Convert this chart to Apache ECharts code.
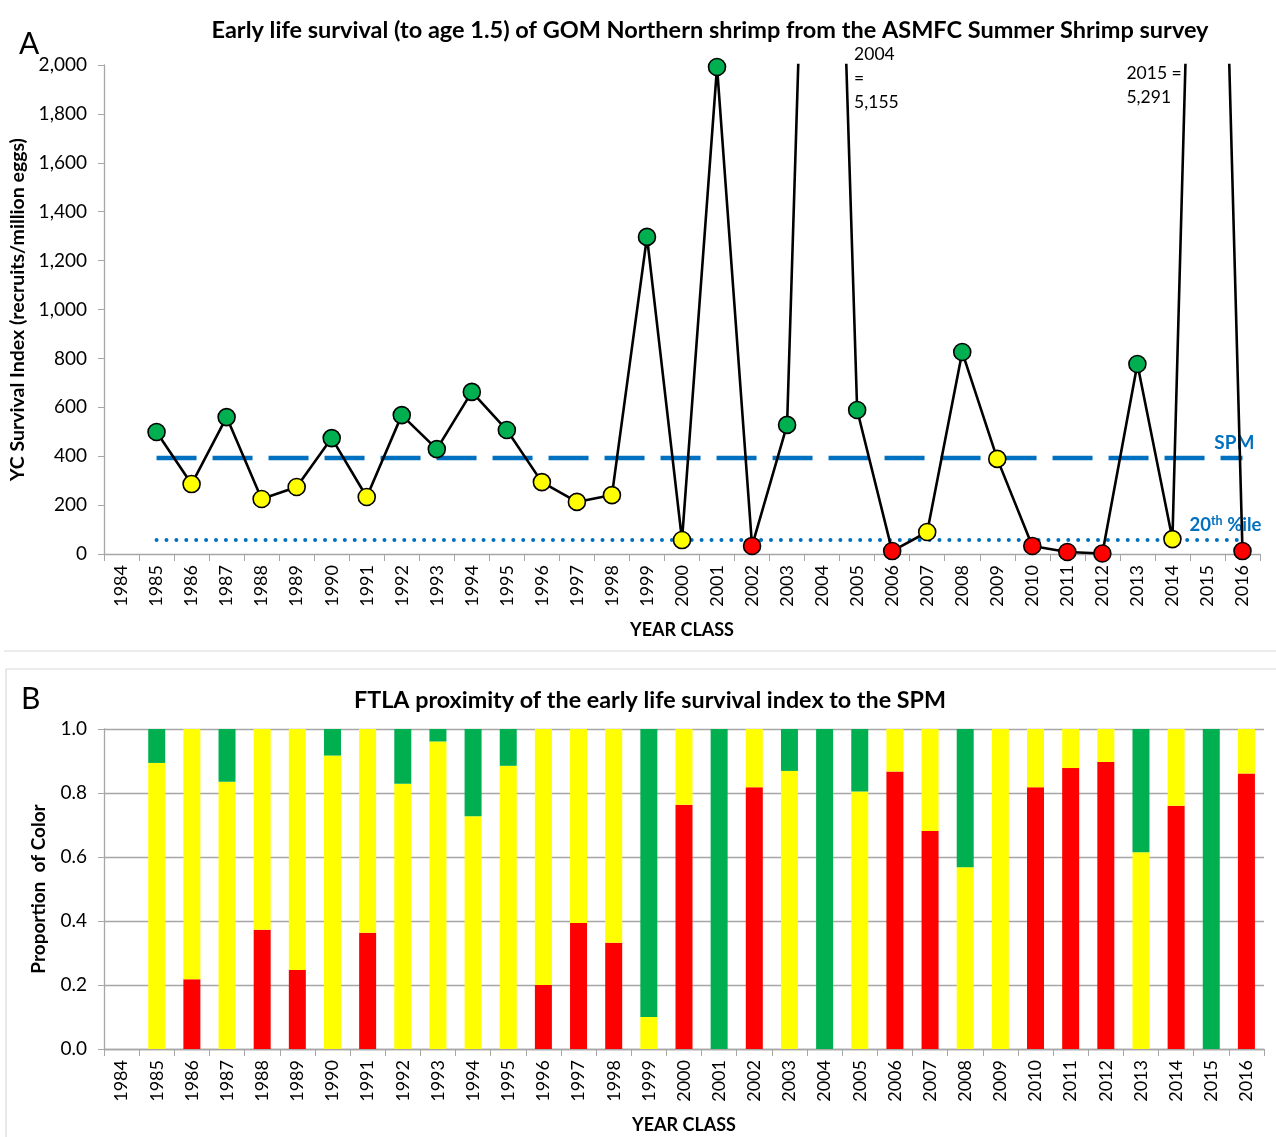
<!DOCTYPE html>
<html>
<head>
<meta charset="utf-8">
<title>GOM Northern shrimp early life survival</title>
<script src="https://cdn.jsdelivr.net/npm/echarts@6/dist/echarts.min.js"></script>
<style>
  html, body { margin: 0; padding: 0; background: #fff; }
  #chart { width: 1276px; height: 1137px; }
</style>
</head>
<body>
<div id="chart"></div>
<script>
// Year classes shared by both panels
const years = ['1984','1985','1986','1987','1988','1989','1990','1991','1992','1993','1994',
  '1995','1996','1997','1998','1999','2000','2001','2002','2003','2004','2005','2006','2007',
  '2008','2009','2010','2011','2012','2013','2014','2015','2016'];

// Panel A: early life survival index (recruits / million eggs)
const survival = [null, 499, 286, 560, 225, 274, 474, 233, 568, 429, 663, 507, 294, 213, 241,
  1297, 57, 1992, 33, 528, 5155, 589, 12, 90, 826, 389, 33, 8, 2, 777, 61, 5291, 12];
// Traffic-light status of each year class: G = above SPM, Y = between, R = below 20th %ile
const status = ['', 'G','Y','G','Y','Y','G','Y','G','G','G','G','Y','Y','Y','G','Y','G','R','G',
  'G','G','R','Y','G','Y','R','R','R','G','Y','G','R'];
const spmValue = 393;
const pct20Value = 57;
const survivalTicks = [0, 200, 400, 600, 800, 1000, 1200, 1400, 1600, 1800, 2000];

// Panel B: proportion of each colour (stacked)
const propRed = [0, 0, 0.218, 0, 0.373, 0.247, 0, 0.363, 0, 0, 0, 0, 0.2, 0.394, 0.332, 0,
  0.763, 0, 0.818, 0, 0, 0, 0.867, 0.681, 0, 0, 0.818, 0.878, 0.897, 0, 0.76, 0, 0.861];
const propYellow = [0, 0.894, 0.782, 0.835, 0.627, 0.753, 0.917, 0.637, 0.829, 0.961, 0.727,
  0.885, 0.8, 0.606, 0.668, 0.1, 0.237, 0, 0.182, 0.869, 0, 0.805, 0.133, 0.319, 0.568, 1,
  0.182, 0.122, 0.103, 0.615, 0.24, 0, 0.139];
const propGreen = [0, 0.106, 0, 0.165, 0, 0, 0.083, 0, 0.171, 0.039, 0.273, 0.115, 0, 0, 0,
  0.9, 0, 1, 0, 0.131, 1, 0.195, 0, 0, 0.432, 0, 0, 0, 0, 0.385, 0, 1, 0];

const COLORS = { G: '#00B050', Y: '#FFFF00', R: '#FF0000' };
const FONT = 'Lato, "Open Sans", sans-serif';
const BLUE = '#0070C0';

const chart = echarts.init(document.getElementById('chart'), null, { renderer: 'canvas' });

const commas = v => String(v).replace(/\B(?=(\d{3})+(?!\d))/g, ',');

const survivalPoints = survival.map((v, i) => v == null ? null : ({
  value: v,
  itemStyle: { color: COLORS[status[i]] }
}));
const spmLine = years.map((y, i) => i === 0 ? null : spmValue);
const pctLine = years.map((y, i) => i === 0 ? null : pct20Value);

const axisGray = '#a6a6a6';
const catAxis = (gridIndex, name, nameGap) => ({
  type: 'category',
  gridIndex,
  data: years,
  boundaryGap: true,
  name,
  nameLocation: 'middle',
  nameGap,
  nameTextStyle: { fontFamily: FONT, fontWeight: 'bold', fontSize: 18, color: '#000' },
  axisLine: { lineStyle: { color: axisGray, width: 1.3 } },
  axisTick: { show: true, alignWithLabel: false, interval: 0, length: 7, lineStyle: { color: axisGray } },
  axisLabel: { interval: 0, rotate: 90, margin: 11, fontFamily: FONT, fontSize: 18, color: '#000' },
  splitLine: { show: false }
});

chart.setOption({
  animation: false,
  backgroundColor: '#fff',
  title: [
    { text: 'Early life survival (to age 1.5) of GOM Northern shrimp from the ASMFC Summer Shrimp survey',
      left: 705, top: 13, textAlign: 'center',
      textStyle: { fontFamily: FONT, fontWeight: 'bold', fontSize: 23.5, color: '#000' } },
    { text: 'FTLA proximity of the early life survival index to the SPM',
      left: 645, top: 684, textAlign: 'center',
      textStyle: { fontFamily: FONT, fontWeight: 'bold', fontSize: 23.3, color: '#000' } },
    { text: 'A', left: 14, top: 24, textStyle: { fontFamily: FONT, fontWeight: 'normal', fontSize: 30, color: '#000' } },
    { text: 'B', left: 16, top: 679, textStyle: { fontFamily: FONT, fontWeight: 'normal', fontSize: 30, color: '#000' } }
  ],
  grid: [
    { left: 104, right: 16, top: 65, height: 489, outerBoundsMode: 'none' },
    { left: 104, right: 12, top: 729, height: 320, outerBoundsMode: 'none' }
  ],
  xAxis: [
    catAxis(0, 'YEAR CLASS', 67),
    catAxis(1, 'YEAR CLASS', 67)
  ],
  yAxis: [
    {
      type: 'value', gridIndex: 0, min: 0, max: 2000, interval: 200,
      name: 'YC Survival Index (recruits/million eggs)',
      nameLocation: 'middle', nameGap: 74, nameRotate: 90,
      nameTextStyle: { fontFamily: FONT, fontWeight: 'bold', fontSize: 19.5, color: '#000' },
      axisLine: { show: true, lineStyle: { color: axisGray, width: 1.3 } },
      axisTick: { show: true, length: 6, lineStyle: { color: axisGray } },
      axisLabel: { fontFamily: FONT, fontSize: 19, color: '#000', margin: 17,
        formatter: v => survivalTicks.includes(v) ? commas(v) : '' },
      splitLine: { show: false }
    },
    {
      type: 'value', gridIndex: 1, min: 0, max: 1, interval: 0.2,
      name: 'Proportion  of Color',
      nameLocation: 'middle', nameGap: 56, nameRotate: 90,
      nameTextStyle: { fontFamily: FONT, fontWeight: 'bold', fontSize: 19, color: '#000' },
      axisLine: { show: true, lineStyle: { color: axisGray, width: 1.3 } },
      axisTick: { show: true, length: 6, lineStyle: { color: axisGray } },
      axisLabel: { fontFamily: FONT, fontSize: 19, color: '#000', margin: 17,
        formatter: v => v.toFixed(1) },
      splitLine: { show: true, lineStyle: { color: axisGray, width: 1.3 } }
    }
  ],
  series: [
    {
      name: 'SPM', type: 'line', xAxisIndex: 0, yAxisIndex: 0,
      data: spmLine, symbol: 'none', z: 2,
      lineStyle: { color: BLUE, width: 4.5, type: [40, 16] }
    },
    {
      name: '20th %ile', type: 'line', xAxisIndex: 0, yAxisIndex: 0,
      data: pctLine, symbol: 'none', z: 2,
      lineStyle: { color: BLUE, width: 4, type: [0.01, 9.9], cap: 'round' }
    },
    {
      name: 'Survival', type: 'line', xAxisIndex: 0, yAxisIndex: 0,
      data: survivalPoints, clip: true, z: 5,
      symbol: 'circle', symbolSize: 17, showAllSymbol: true,
      lineStyle: { color: '#000', width: 2.6 },
      itemStyle: { borderColor: '#000', borderWidth: 1.6 }
    },
    {
      name: 'Red', type: 'bar', stack: 'prop', xAxisIndex: 1, yAxisIndex: 1,
      data: propRed, barWidth: 17, itemStyle: { color: COLORS.R }
    },
    {
      name: 'Yellow', type: 'bar', stack: 'prop', xAxisIndex: 1, yAxisIndex: 1,
      data: propYellow, barWidth: 17, itemStyle: { color: COLORS.Y }
    },
    {
      name: 'Green', type: 'bar', stack: 'prop', xAxisIndex: 1, yAxisIndex: 1,
      data: propGreen, barWidth: 17, itemStyle: { color: COLORS.G }
    }
  ]
});

// Annotations placed relative to the axis positions
const px = (cat, val) => chart.convertToPixel({ xAxisIndex: 0, yAxisIndex: 0 }, [cat, val]);
const p2004 = px('2004', 2000);
const p2015 = px('2015', 2000);
const pSpm = px('2016', spmValue);
const pPct = px('2016', pct20Value);
const noteStyle = { fontFamily: FONT, fontSize: 17.5, fill: '#000', lineHeight: 24 };

chart.setOption({
  graphic: [
    { type: 'text', left: p2004[0] + 32, top: p2004[1] - 23,
      style: Object.assign({ text: '2004\n=\n5,155' }, noteStyle) },
    { type: 'text', left: p2015[0] - 81, top: p2015[1] - 4,
      style: Object.assign({ text: '2015 =\n5,291' }, noteStyle) },
    { type: 'text', x: pSpm[0] + 12, y: pSpm[1] - 15,
      style: { text: 'SPM', align: 'right', verticalAlign: 'middle',
        fontFamily: FONT, fontWeight: 'bold', fontSize: 19, fill: BLUE } },
    { type: 'text', x: pPct[0] + 19, y: pPct[1] - 15,
      style: { text: '{b|20}{s|th}{b| %ile}', align: 'right', verticalAlign: 'middle',
        rich: {
          b: { fontFamily: FONT, fontWeight: 'bold', fontSize: 18.5, fill: BLUE, color: BLUE },
          s: { fontFamily: FONT, fontWeight: 'bold', fontSize: 12.5, fill: BLUE, color: BLUE, verticalAlign: 'top', padding: [0, 0, 8, 0] }
        } } },
    // panel frames
    { type: 'line', shape: { x1: 4, y1: 651, x2: 1276, y2: 651 }, style: { stroke: '#d9d9d9', lineWidth: 1.2 } },
    { type: 'line', shape: { x1: 6, y1: 669, x2: 1276, y2: 669 }, style: { stroke: '#d9d9d9', lineWidth: 1.2 } },
    { type: 'line', shape: { x1: 6, y1: 669, x2: 6, y2: 1137 }, style: { stroke: '#d9d9d9', lineWidth: 1.2 } }
  ]
});
</script>
</body>
</html>
